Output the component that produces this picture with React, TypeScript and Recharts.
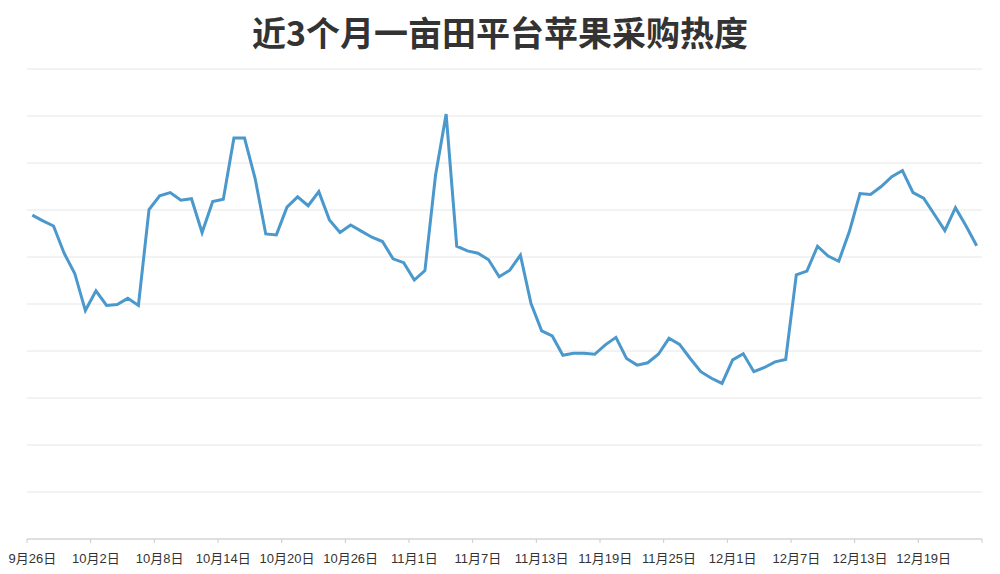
import React from 'react';
import { LineChart, Line, XAxis, YAxis, CartesianGrid } from 'recharts';

const title = '近3个月一亩田平台苹果采购热度';

// days covered: 9/26 .. 12/24
const monthDays: [number, number, number][] = [
  [9, 26, 30],
  [10, 1, 31],
  [11, 1, 30],
  [12, 1, 24],
];

const categories: string[] = [];
monthDays.forEach(([m, from, to]) => {
  for (let d = from; d <= to; d++) categories.push(`${m}月${d}日`);
});

const heat = [
  6.89, 6.77, 6.66, 6.08, 5.65, 4.86, 5.28, 4.97, 4.99, 5.12,
  4.97, 7.01, 7.3, 7.37, 7.21, 7.24, 6.52, 7.18, 7.23, 8.53,
  8.53, 7.67, 6.49, 6.47, 7.06, 7.28, 7.09, 7.39, 6.79, 6.52,
  6.68, 6.55, 6.42, 6.33, 5.96, 5.88, 5.51, 5.71, 7.74, 9.04,
  6.23, 6.13, 6.08, 5.94, 5.58, 5.72, 6.04, 5.01, 4.43, 4.32,
  3.91, 3.95, 3.95, 3.93, 4.13, 4.29, 3.84, 3.7, 3.75, 3.93,
  4.27, 4.14, 3.84, 3.56, 3.42, 3.31, 3.81, 3.94, 3.56, 3.65,
  3.77, 3.82, 5.62, 5.7, 6.23, 6.02, 5.91, 6.54, 7.35, 7.33,
  7.5, 7.71, 7.84, 7.37, 7.25, 6.91, 6.56, 7.05, 6.66, 6.24,
];

const tickLabels = [
  '9月26日', '10月2日', '10月8日', '10月14日', '10月20日', '10月26日', '11月1日',
  '11月7日', '11月13日', '11月19日', '11月25日', '12月1日', '12月7日', '12月13日', '12月19日',
];

const yTicks = [0, 1, 2, 3, 4, 5, 6, 7, 8, 9, 10];

const data = categories.map((date, i) => ({ date, heat: heat[i] }));
const lastDate = categories[categories.length - 1];

const W = 1000;
const H = 574;
const margin = { top: 69, right: 18, left: 27, bottom: 5 };
const bandW = (W - margin.left - margin.right) / categories.length;

const font = "'Liberation Sans', 'Noto Sans CJK SC', sans-serif";

const DateTick = (props: any) => {
  const { x, y, payload } = props;
  const isEnd = payload.value === lastDate;
  const lx = isEnd ? x + bandW / 2 : x - bandW / 2;
  return (
    <g>
      <line x1={lx} y1={y - 8} x2={lx} y2={y - 4} stroke="#cccccc" strokeWidth={1} />
      {!isEnd && (
        <text x={x} y={y + 16} textAnchor="middle" fill="#333" fontSize={13} fontFamily={font}>
          {payload.value}
        </text>
      )}
    </g>
  );
};

export default function App() {
  return (
    <div style={{ position: 'absolute', left: 0, top: 0, width: W, height: H, background: '#fff' }}>
      <div
        style={{
          position: 'absolute',
          top: 13,
          left: 0,
          width: W,
          textAlign: 'center',
          fontSize: 34,
          lineHeight: '38px',
          fontWeight: 'bold',
          color: '#333',
          fontFamily: "'Noto Sans CJK SC', sans-serif",
        }}
      >
        {title}
      </div>
      <LineChart width={W} height={H} data={data} margin={margin}>
        <CartesianGrid vertical={false} stroke="#e6e6e6" />
        <YAxis hide domain={[0, 10]} ticks={yTicks} />
        <XAxis
          dataKey="date"
          scale="band"
          ticks={[...tickLabels, lastDate]}
          interval={0}
          height={30}
          axisLine={{ stroke: '#cccccc' }}
          tickLine={false}
          tick={<DateTick />}
        />
        <Line
          type="linear"
          dataKey="heat"
          stroke="#4a98cc"
          strokeWidth={3}
          dot={false}
          isAnimationActive={false}
        />
      </LineChart>
    </div>
  );
}
